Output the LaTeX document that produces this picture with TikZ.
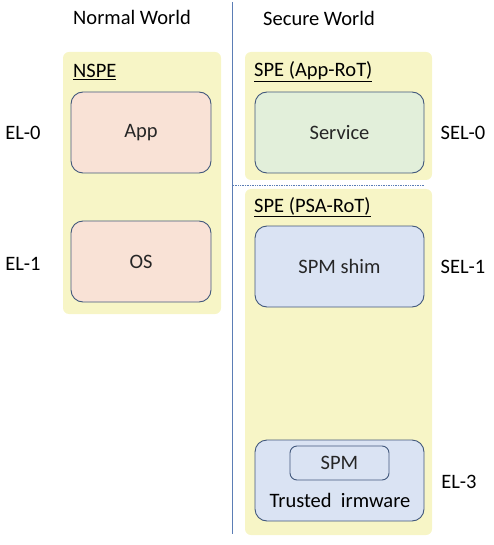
\documentclass[tikz,border=0pt]{standalone}
\usepackage{fontspec}
\setmainfont{Carlito}
\definecolor{envyellow}{HTML}{F7F5C6}
\definecolor{apppeach}{HTML}{F9E2D6}
\definecolor{svcgreen}{HTML}{E2EFDA}
\definecolor{spmblue}{HTML}{DAE3F3}
\definecolor{edgeblue}{HTML}{42587C}
\definecolor{splitblue}{HTML}{5B7DB5}
\tikzset{
  env/.style={fill=envyellow, rounded corners=6pt, inner sep=0pt},
  comp/.style={draw=edgeblue, line width=0.9pt, rounded corners=12pt, inner sep=0pt, text=black!85},
  envlabel/.style={anchor=west, inner sep=0pt},
  level/.style={inner sep=0pt}
}
\begin{document}
\begin{tikzpicture}[x=1pt, y=-1pt, font=\fontsize{20.5}{24}\selectfont]
  \useasboundingbox (0,0) rectangle (494,545);
  % worlds
  \node (NW) at (132,17) {Normal World};
  \node (SW) at (319,18) {Secure World};
  \coordinate (splittop) at (232,2);
  \coordinate (splitbot) at (232,534);
  \draw[splitblue, line width=0.7pt] (splittop) -- (splitbot);
  % non-secure side
  \node (NSPE) [env, minimum width=158, minimum height=262] at (142,183) {};
  \node (NSPElbl) [envlabel] at (73,72) {\underline{NSPE}};
  \node (App) [comp, fill=apppeach, minimum width=140, minimum height=81] at (141,132.5) {App};
  \node (OS) [comp, fill=apppeach, minimum width=140, minimum height=81] at (141,261.5) {OS};
  % secure side
  \node (AppRoT) [env, minimum width=187, minimum height=128] at (338.5,116) {};
  \node (AppRoTlbl) [envlabel] at (254,72) {\underline{SPE (App-RoT)}};
  \node (Service) [comp, fill=svcgreen, minimum width=169, minimum height=81] at (339.5,132.5) {Service};
  \coordinate (sepL) at (233,185);
  \coordinate (sepR) at (424,185);
  \draw[splitblue, densely dotted, line width=0.7pt] (sepL) -- (sepR);
  \node (PSARoT) [env, minimum width=187, minimum height=346] at (338.5,362) {};
  \node (PSARoTlbl) [envlabel] at (254,207) {\underline{SPE (PSA-RoT)}};
  \node (Shim) [comp, fill=spmblue, minimum width=169, minimum height=81] at (339.5,266.5) {SPM shim};
  \node (TFW) [comp, fill=spmblue, minimum width=169, minimum height=81] at (339.5,480.5) {};
  \node (TFWlbl) at (340,500) {Trusted \ irmware};
  \node (SPM) [comp, fill=spmblue, rounded corners=7pt, minimum width=99, minimum height=34] at (339.5,463) {SPM};
  % exception levels
  \node (EL0) [level] at (23,133) {EL-0};
  \node (EL1) [level] at (23,264) {EL-1};
  \node (SEL0) [level] at (463,133) {SEL-0};
  \node (SEL1) [level] at (463,267) {SEL-1};
  \node (EL3) [level] at (459,482) {EL-3};
\end{tikzpicture}
\end{document}
